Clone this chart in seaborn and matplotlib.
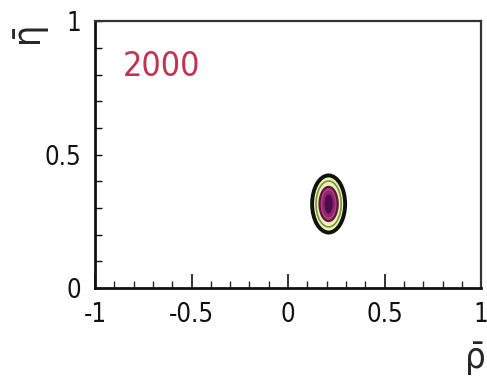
import matplotlib
matplotlib.use("Agg")
import matplotlib.pyplot as plt
from matplotlib.patches import Ellipse
from matplotlib.ticker import MultipleLocator
import seaborn as sns

# Fit result in the (rho-bar, eta-bar) plane
fit_year = "2000"
rho_center = 0.210
eta_center = 0.315

# Confidence regions, outermost first: half-widths along rho and eta
region_half_rho = [0.0855, 0.065, 0.047, 0.034, 0.021]
region_half_eta = [0.107, 0.086, 0.064, 0.050, 0.036]
region_fill = ["#f3f1ae", "#eef0c6", "#b23c82", "#8e2470", "#4e0c4c"]
region_edge = ["#111111", "#6f9a35", "#5e1838", "none", "none"]
region_lw = [2.8, 1.2, 1.6, 0, 0]

x_ticks = [-1, -0.5, 0, 0.5, 1]
x_tick_labels = ["-1", "-0.5", "0", "0.5", "1"]
y_ticks = [0, 0.5, 1]
y_tick_labels = ["0", "0.5", "1"]

sns.set_style("ticks")
narrow = ["Liberation Sans Narrow", "DejaVu Sans Condensed", "DejaVu Sans"]
plt.rcParams["font.family"] = narrow
plt.rcParams["font.stretch"] = "condensed"

fig = plt.figure(figsize=(4.87, 3.78), dpi=100)
ax = fig.add_axes([0.195, 0.238, 0.793, 0.706])
ax.set_xlim(-1, 1)
ax.set_ylim(0, 1)

for hr, he, fc, ec, lw in zip(region_half_rho, region_half_eta,
                              region_fill, region_edge, region_lw):
    ax.add_patch(Ellipse((rho_center, eta_center), 2 * hr, 2 * he,
                         facecolor=fc, edgecolor=ec, linewidth=lw, zorder=3))

ax.text(-0.855, 0.794, fit_year, color="#c2334f", fontsize=24.5,
        ha="left", va="baseline")

ax.set_xticks(x_ticks)
ax.set_xticklabels(x_tick_labels)
ax.set_yticks(y_ticks)
ax.set_yticklabels(y_tick_labels)
ax.xaxis.set_minor_locator(MultipleLocator(0.1))
ax.yaxis.set_minor_locator(MultipleLocator(0.1))
ax.tick_params(axis="x", which="major", direction="in", length=10, width=1.2,
               labelsize=18.5, pad=10, colors="#111111")
ax.tick_params(axis="x", which="minor", direction="in", length=5, width=1.0)
ax.tick_params(axis="y", which="both", direction="in", length=5, width=1.0,
               labelsize=18.5, pad=10, colors="#111111")

for side in ["left", "bottom"]:
    ax.spines[side].set_linewidth(2.0)
    ax.spines[side].set_color("#111111")
for side in ["top", "right"]:
    ax.spines[side].set_linewidth(1.6)
    ax.spines[side].set_color("#333333")

ax.set_xlabel("\u03c1\u0304", loc="right", fontsize=26)
ax.set_ylabel("\u03b7\u0304", loc="top", fontsize=27)
ax.xaxis.set_label_coords(1.012, -0.200)
ax.yaxis.set_label_coords(-0.127, 1.0)

fig.savefig("out.png", dpi=100, facecolor="white")
